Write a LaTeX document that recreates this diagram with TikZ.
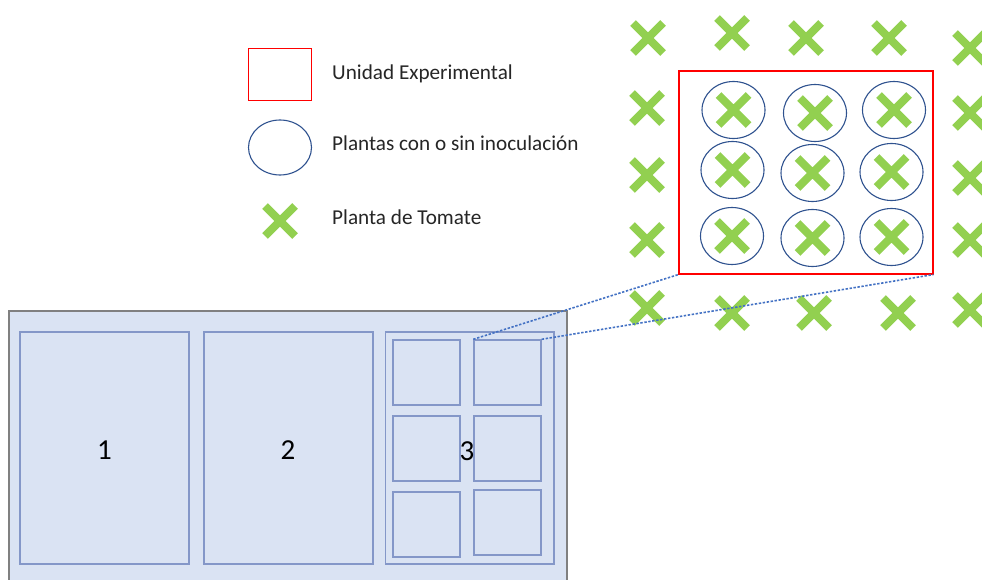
\documentclass[tikz,border=0pt]{standalone}
\usepackage{fontspec}
\setmainfont{Carlito}
\usetikzlibrary{shapes.geometric}
\definecolor{xgreen}{HTML}{92D050}
\definecolor{ellblue}{HTML}{2F528F}
\definecolor{boxfill}{HTML}{DAE3F3}
\definecolor{boxline}{HTML}{8497C8}
\definecolor{dotblue}{HTML}{4472C4}
\definecolor{txt}{HTML}{262626}
\tikzset{
  tomate/.pic={\draw[line width=8pt, color=xgreen, line cap=butt] (-15,-15) -- (15,15) (-15,15) -- (15,-15);},
  plantell/.style={ellipse, draw=ellblue, line width=1.1pt, minimum width=63pt, minimum height=57pt, inner sep=0pt},
  unitbox/.style={rectangle, draw=red, line width=1.1pt, inner sep=0pt},
  field/.style={rectangle, draw=boxline, line width=1.4pt, inner sep=0pt},
  legtxt/.style={anchor=base west, inner sep=0pt, text=txt, font=\fontsize{21.2}{25}\selectfont},
  numtxt/.style={anchor=base, inner sep=0pt, text=black, font=\fontsize{29}{34}\selectfont},
  zoomline/.style={draw=dotblue, line width=1.6pt, dash pattern=on 2.4pt off 1.6pt}
}
\begin{document}
\begin{tikzpicture}[x=1pt, y=-1pt]
\clip (0,0) rectangle (982,580);
\fill[white] (0,0) rectangle (982,580);
% legend
\node[unitbox, minimum width=63pt, minimum height=52pt] (legbox) at (280,74.5) {};
\node[plantell, minimum width=63pt, minimum height=55pt] (legell) at (280,147.5) {};
\pic at (280,221) {tomate};
\node[legtxt] (t1) at (332,80) {Unidad Experimental};
\node[legtxt] (t2) at (332,151) {Plantas con o sin inoculación};
\node[legtxt] (t3) at (332,225) {Planta de Tomate};
% field
\node[rectangle, draw=gray, fill=boxfill, line width=1.4pt, minimum width=558pt, minimum height=290pt, inner sep=0pt] (outer) at (288,456) {};
\node[field, minimum width=169pt, minimum height=232pt] (r1) at (104.5,448) {};
\node[field, minimum width=169pt, minimum height=232pt] (r2) at (288.5,448) {};
\node[field, minimum width=168.5pt, minimum height=232pt] (r3) at (469.75,448) {};
\node[field, minimum width=67pt, minimum height=65pt] (s11) at (426.5,372.5) {};
\node[field, minimum width=67pt, minimum height=65pt] (s12) at (507.5,372.5) {};
\node[field, minimum width=67pt, minimum height=65pt] (s21) at (426.5,448.5) {};
\node[field, minimum width=67pt, minimum height=65pt] (s22) at (507.5,448.5) {};
\node[field, minimum width=67pt, minimum height=65pt] (s31) at (426.5,524.5) {};
\node[field, minimum width=67pt, minimum height=65pt] (s32) at (507.5,522.5) {};
\node[numtxt] (n1) at (104.5,459) {1};
\node[numtxt] (n2) at (288,459) {2};
\node[numtxt] (n3) at (467,460.5) {3};
% outer tomato plants
\foreach \x/\y in {648/38, 732/33, 806/38, 889/38, 970/48,
                   647/108, 970/113, 647/175, 970/178, 647/240, 970/240,
                   647/308, 732/313, 814/313, 898/313, 970/310}
  \pic at (\x,\y) {tomate};
% experimental unit
\node[unitbox, minimum width=254pt, minimum height=203pt] (ue) at (806,172.5) {};
\foreach \i/\x/\y in {a/733.5/110, b/815/113, c/894/110,
                      d/732.5/170, e/812.5/173, f/891.5/172,
                      g/732/236, h/812.5/238, k/891.5/237} {
  \node[plantell] (e\i) at (\x,\y) {};
  \pic at (\x,\y) {tomate};
}
% zoom lines
\draw[zoomline] (s12.north west) -- (ue.south west);
\draw[zoomline] (s12.north east) -- (ue.south east);
\end{tikzpicture}
\end{document}
